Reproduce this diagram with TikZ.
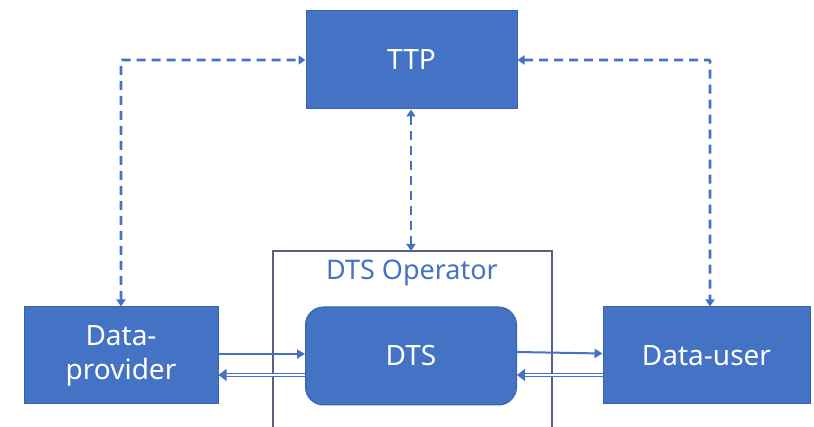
\documentclass[tikz,border=0pt]{standalone}
\usepackage{fontspec}
\setmainfont{Noto Sans}
\usetikzlibrary{arrows.meta,calc}
\definecolor{boxblue}{HTML}{4472C4}
\definecolor{boxedge}{HTML}{3A62AA}
\definecolor{framec}{HTML}{56627A}
\tikzset{
  blk/.style={draw=boxedge, line width=1pt, fill=boxblue, text=white, font=\fontsize{28}{34}\selectfont, align=center, inner sep=0pt},
  dsh/.style={boxblue, line width=2.6pt, dash pattern=on 9pt off 6pt, {Triangle[length=7pt,width=9pt]}-{Triangle[length=7pt,width=9pt]}},
  sarrow/.style={boxblue, line width=2pt, -{Triangle[length=8pt,width=9pt]}},
  darrow/.style={boxblue, line width=1.2pt, double=white, double distance=1.8pt, -{Triangle[length=8pt,width=12pt]}},
}
\begin{document}
\begin{tikzpicture}[x=1pt,y=-1pt]
\useasboundingbox (0,0) rectangle (814,427);
\begin{scope}
\clip (0,0) rectangle (814,427);
\draw[framec, line width=1.3pt] (273,440) -- (273,251) -- (552,251) -- (552,440);
\end{scope}
\coordinate (frtop) at (411,251);
\node[font=\fontsize{27}{31}\selectfont, text=boxblue] (op) at (412,273) {DTS Operator};
\node[blk, minimum width=211pt, minimum height=98pt] (ttp) at (411.5,60) {TTP};
\node[blk, minimum width=194pt, minimum height=97pt] (dp) at (121,355.5) {Data-\\provider};
\node[blk, rounded corners=18pt, minimum width=211pt, minimum height=98pt] (dts) at (411,356) {DTS};
\node[blk, minimum width=207pt, minimum height=97pt] (du) at (706.5,355.5) {Data-user};
\coordinate (lc) at (121,60);
\coordinate (rc) at (710,60);
\draw[dsh, rounded corners=1pt] (dp.north) -- (lc) -- (ttp.west |- lc);
\draw[dsh, rounded corners=1pt] (ttp.east |- rc) -- (rc) -- (du.north -| rc);
\draw[dsh] (ttp.south -| frtop) -- (frtop);
\draw[sarrow] ($(dp.east)+(0,-1.5)$) -- ($(dts.west)+(0,-2)$);
\draw[darrow] ($(dts.west)+(0,19)$) -- ($(dp.east)+(0,19.5)$);
\draw[sarrow] ($(dts.east)+(0,-4)$) -- ($(du.west)+(0,-2)$);
\draw[darrow] ($(du.west)+(0,19.5)$) -- ($(dts.east)+(0,19)$);
\end{tikzpicture}
\end{document}
